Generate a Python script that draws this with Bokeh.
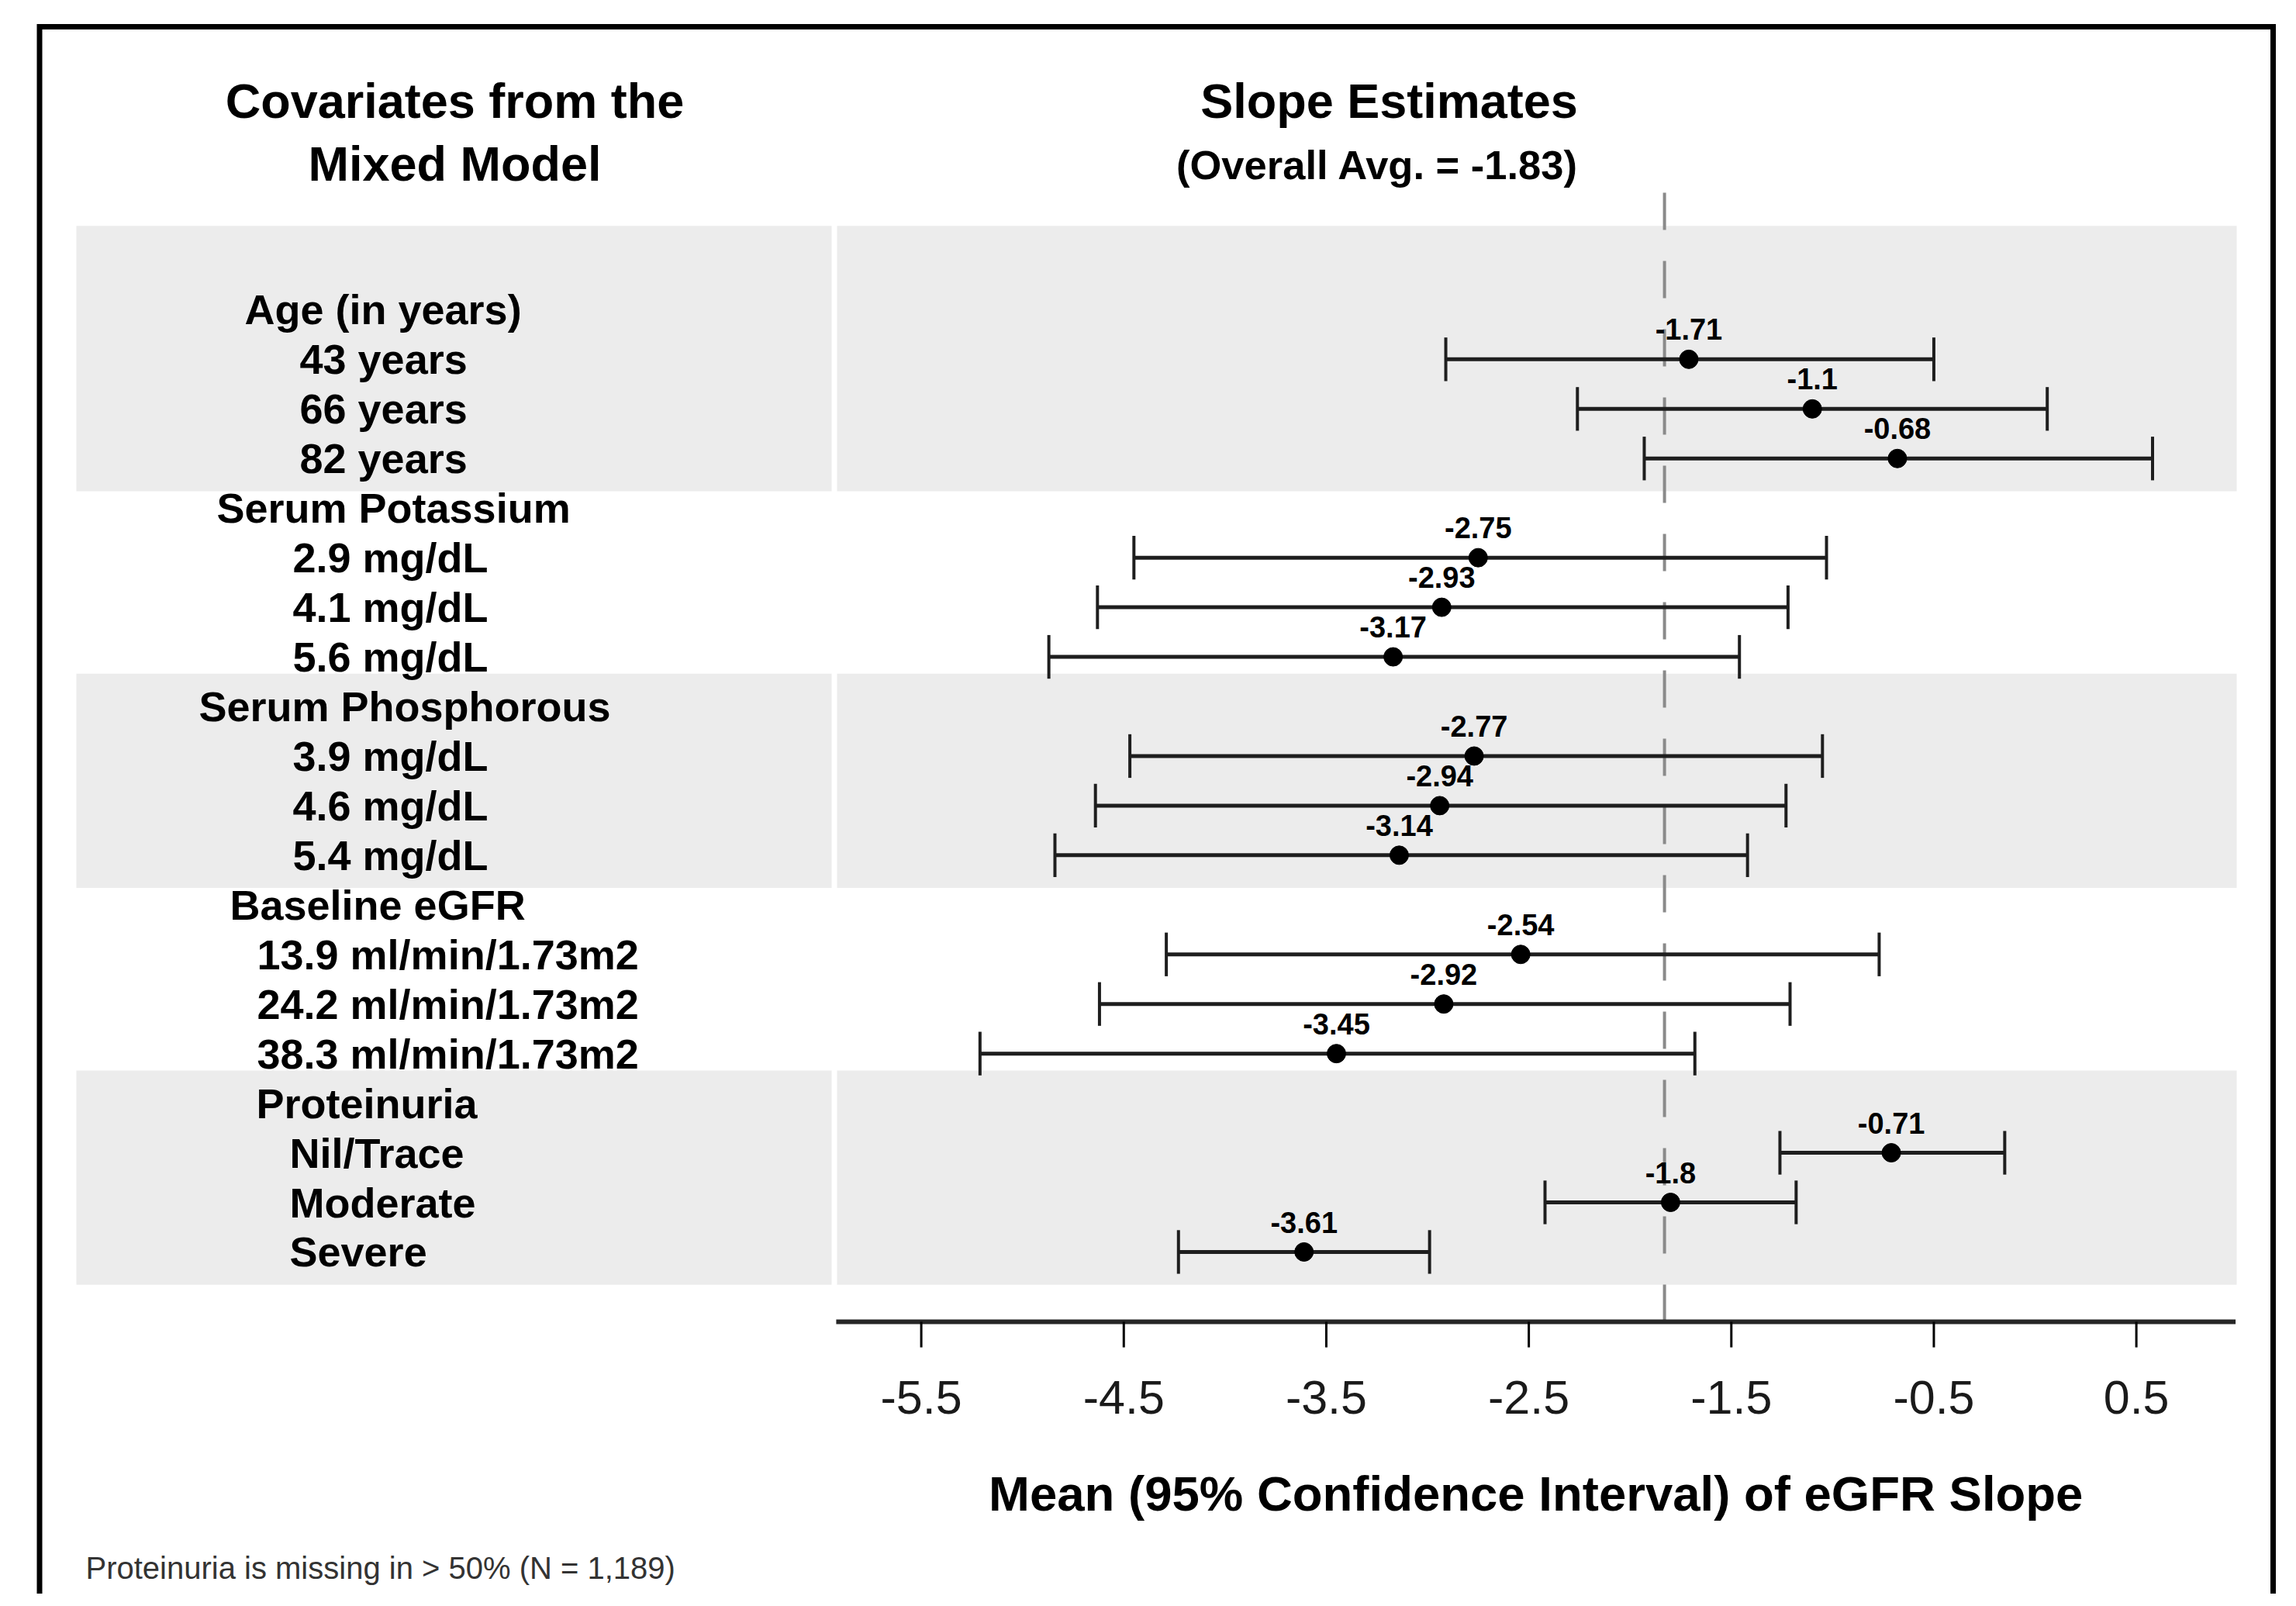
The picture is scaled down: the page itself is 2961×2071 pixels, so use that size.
from bokeh.plotting import figure
from bokeh.models import Range1d, ColumnDataSource
from bokeh.core.properties import value
from bokeh.embed import file_html
from bokeh.resources import INLINE

# ---------------- data ----------------
group_names = ["Age (in years)", "Serum Potassium", "Serum Phosphorous",
               "Baseline eGFR", "Proteinuria"]
level_names = [
    ["43 years", "66 years", "82 years"],
    ["2.9 mg/dL", "4.1 mg/dL", "5.6 mg/dL"],
    ["3.9 mg/dL", "4.6 mg/dL", "5.4 mg/dL"],
    ["13.9 ml/min/1.73m2", "24.2 ml/min/1.73m2", "38.3 ml/min/1.73m2"],
    ["Nil/Trace", "Moderate", "Severe"],
]
slope_mean = [-1.71, -1.1, -0.68, -2.75, -2.93, -3.17, -2.77, -2.94, -3.14,
              -2.54, -2.92, -3.45, -0.71, -1.8, -3.61]
slope_lower = [-2.91, -2.26, -1.93, -4.45, -4.63, -4.87, -4.47, -4.64, -4.84,
               -4.29, -4.62, -5.21, -1.26, -2.42, -4.23]
slope_upper = [-0.50, 0.06, 0.58, -1.03, -1.22, -1.46, -1.05, -1.23, -1.42,
               -0.77, -1.21, -1.68, -0.15, -1.18, -2.99]
overall_avg = -1.83
x_ticks = [-5.5, -4.5, -3.5, -2.5, -1.5, -0.5, 0.5]
x_axis_min, x_axis_max = -5.92, 0.99
title_left = ["Covariates from the", "Mixed Model"]
title_right = "Slope Estimates"
x_axis_title = "Mean (95% Confidence Interval) of eGFR Slope"
footnote = "Proteinuria is missing in > 50% (N = 1,189)"

# ---------------- layout (reference pixel geometry) ----------------
W, H = 2945, 2055
OFF = 0
X_PX0, X_PPU = 1187.6, 261.17      # pixel of x=-5.5, pixels per unit
Y_PX0, Y_PITCH = 398.9, 63.95       # pixel of row 0, pixels per row

def ry(px):
    return (px - Y_PX0) / Y_PITCH

x_start = -5.5 + (OFF - X_PX0) / X_PPU
x_end = -5.5 + (OFF + W - X_PX0) / X_PPU
y_top = ry(OFF)
y_bot = ry(OFF + H)

p = figure(width=W, height=H, output_backend="svg", toolbar_location=None,
           x_range=Range1d(x_start, x_end), y_range=Range1d(y_bot, y_top),
           x_axis_type=None, y_axis_type=None, min_border=0)
p.outline_line_color = None
p.background_fill_color = "white"
p.border_fill_color = "white"
p.extra_x_ranges = {"px": Range1d(OFF, OFF + W)}
p.extra_y_ranges = {"py": Range1d(OFF + H, OFF)}

FONT = value("Liberation Sans")
BAND = "#ececec"
INK = "#1e1e1e"

# rows
label_x_header = [315, 279, 256, 296, 330]
label_x_level = [386, 377, 377, 331, 373]
row_text, row_y, row_x = [], [], []
est_rows = []
for g, name in enumerate(group_names):
    row_text.append(name); row_y.append(4 * g); row_x.append(label_x_header[g])
    for j, lv in enumerate(level_names[g]):
        row_text.append(lv); row_y.append(4 * g + 1 + j); row_x.append(label_x_level[g])
        est_rows.append(4 * g + 1 + j)

# shaded bands (groups 0, 2, 4)
pad = 0.66
b_top, b_bot = [], []
for g in (0, 2, 4):
    b_top.append(4 * g - pad - (1.03 if g == 0 else 0))
    b_bot.append(4 * g + 3 + pad)
p.quad(left=[98] * 3, right=[1072] * 3, top=b_top, bottom=b_bot,
       fill_color=BAND, line_color=None, x_range_name="px")
p.quad(left=[1079] * 3, right=[2884] * 3, top=b_top, bottom=b_bot,
       fill_color=BAND, line_color=None, x_range_name="px")

axis_row = ry(1704)

# reference line
p.segment(x0=[overall_avg], x1=[overall_avg], y0=[ry(248)], y1=[axis_row],
          line_color="#8a8a8a", line_width=4, line_dash="48 40")

# error bars
src = ColumnDataSource(dict(
    y=est_rows, m=slope_mean, lo=slope_lower, hi=slope_upper,
    lab=[f"{v:g}" for v in slope_mean],
    ycap0=[r - 0.44 for r in est_rows], ycap1=[r + 0.44 for r in est_rows],
    ylab=[r - 0.6 for r in est_rows],
))
p.segment(x0="lo", x1="hi", y0="y", y1="y", source=src,
          line_color=INK, line_width=5)
p.segment(x0="lo", x1="lo", y0="ycap0", y1="ycap1", source=src,
          line_color=INK, line_width=4)
p.segment(x0="hi", x1="hi", y0="ycap0", y1="ycap1", source=src,
          line_color=INK, line_width=4)
p.scatter(x="m", y="y", source=src, size=24, marker="circle",
          fill_color="black", line_color="black")
p.text(x="m", y="ylab", text="lab", source=src, text_font=FONT,
       text_font_style="bold", text_font_size="38px", text_align="center",
       text_baseline="middle", text_color="black")

# axis
p.segment(x0=[x_axis_min], x1=[x_axis_max], y0=[axis_row], y1=[axis_row],
          line_color="#262626", line_width=6)
p.segment(x0=x_ticks, x1=x_ticks, y0=[axis_row] * len(x_ticks),
          y1=[ry(1737)] * len(x_ticks), line_color="black", line_width=3)
p.text(x=x_ticks, y=[ry(1801)] * len(x_ticks), text=[f"{t:g}" for t in x_ticks],
       text_font=FONT, text_font_size="61px", text_align="center",
       text_baseline="middle", text_color="#1a1a1a")
p.text(x=[(x_axis_min + x_axis_max) / 2], y=[ry(1925)], text=[x_axis_title],
       text_font=FONT, text_font_style="bold", text_font_size="63.5px",
       text_align="center", text_baseline="middle", text_color="black")

# left labels
p.text(x=row_x, y=row_y, text=row_text, x_range_name="px", text_font=FONT,
       text_font_style="bold", text_font_size="54px", text_align="left",
       text_baseline="middle", text_color="black")

# titles
p.text(x=[586, 586, 1791], y=[129.5, 210, 129.5],
       text=[title_left[0], title_left[1], title_right],
       x_range_name="px", y_range_name="py", text_font=FONT,
       text_font_style="bold", text_font_size="63px", text_align="center",
       text_baseline="middle", text_color="black")
p.text(x=[1776], y=[212], text=[f"(Overall Avg. = {overall_avg})"],
       x_range_name="px", y_range_name="py", text_font=FONT,
       text_font_style="bold", text_font_size="52.5px", text_align="center",
       text_baseline="middle", text_color="black")

# footnote
p.text(x=[110], y=[2021], text=[footnote], x_range_name="px", y_range_name="py",
       text_font=FONT, text_font_size="40px", text_align="left",
       text_baseline="middle", text_color="#333333")

# outer border (open at the bottom: it runs past the picture)
p.multi_line(xs=[[50.5, 50.5, 2931, 2931]], ys=[[2300, 34, 34, 2300]],
             line_color="black", line_width=7, line_join="miter",
             x_range_name="px", y_range_name="py")

open("out.html", "w").write(file_html(p, INLINE))
